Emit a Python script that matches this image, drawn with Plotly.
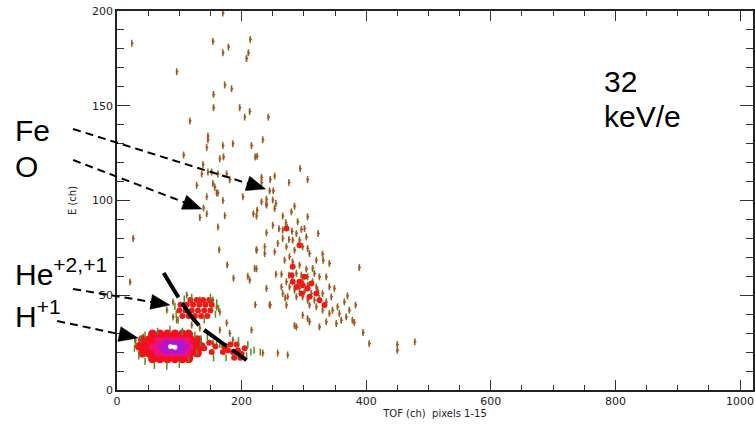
import math
import plotly.graph_objects as go

# ---------------- data (TOF channel, E channel) ----------------
# sparse events (each drawn as a small red/green tick)
sparse_x = [170,154,179,214,170,211,208,96,173,184,155,155,197,213,205,243,117,146,146,170,186,216,234,24,107,
            171,165,144,138,146,152,136,162,176,154,157,160,162,128,144,170,139,133,202,222,219,181,144,162,173,240,240,
            26,21,164,177,187,210,224,224,222,246,270,285,165,181,186,176,154,138,133,176,80,90,112,133,141,160,154,165,
            90,96,120,133,258,274,234,37,42,29,
            225,294,253,246,276,306,232,232,245,251,240,250,255,232,240,253,225,224,285,280,266,306,250,271,260,266,273,
            281,290,296,301,288,293,304,266,276,282,258,272,285,298,306,309,277,269,282,293,320,331,341,323,330,314,304,
            224,237,237,253,221,255,264,276,288,296,306,317,325,336,272,282,290,298,306,314,320,277,285,293,301,312,322,
            330,341,349,264,266,274,288,298,306,317,325,336,344,354,365,370,383,240,213,245,272,309,320,330,341,346,357,
            368,373,360,378,381,352,336,325,309,298,306,288,216,389,395,405,450,450,478]
sparse_y = [199,184,181,185,178,178,175,168,161,159,156,149,149,147,144,144,142,134,132,129,130,129,132,183,124,
            123,122,128,119,115,115,114,114,114,109,107,104,104,108,102,100,96,91,102,123,93,111,93,86,92,83,98,
            80,57,74,66,59,60,74,64,45,45,48.5,34,31.7,30,26.4,22.7,24.8,22.7,24.8,35.4,42.2,46.4,50.1,47.5,45.9,43.8,47.5,41.2,
            38.5,36.9,34.3,32.7,19.5,18.5,19.5,24.8,28,26.4,
            123.4,116.9,112.9,111.1,109.5,111.1,112.2,109.5,105.1,105.1,100.7,100.2,98.4,99.3,97.6,95.8,94.9,91.8,97,94,91.8,91.4,87,88.2,85.1,84.4,85.8,
            83.8,88.8,84.7,85.2,82.6,79.1,80.8,80,79.4,79.1,77.3,75.6,73.8,75.6,74.7,72,70.3,68.5,67.6,65.9,68.5,68.5,66.8,82.6,71.7,64.1,63.8,
            73.8,75.6,72,72.9,64.1,61.1,61.1,60.6,61.5,60.6,59.7,61.5,59.7,59.7,57.1,58,56.2,57.1,55.3,57.1,54.4,54.4,52.7,53.6,51.8,50.9,52.7,
            50.9,54.4,53.6,54.4,50.9,49.2,49.2,49.2,47.4,47.4,48.3,46.5,49.2,43.9,46.5,49.7,44.8,53.6,58,44.8,44.8,44.8,43.9,42.1,40.4,42.1,40.4,
            38.6,42.1,36.8,36.8,35.6,35.1,36,33.3,36,39.5,37.7,33.3,31.6,64.6,30.3,24.5,24,21,25.4]

# dense red event concentrations
red_x = [280,293,298,306,312,288,320,301,282,296,309,325,293,272,333,282,
         105,115,125,135,145,100,110,120,130,140,150,102,112,122,132,142,152,118,128,138,148,
         170,178,186,194,200,182,192,172,205,188,198,140,148,152,158]
red_y = [60.6,57.1,55.3,53.6,56.2,54.4,50.9,59.7,57.1,50.9,49.2,47.4,76.4,85.2,44.8,65,
         39,39,39,39,39,42,42,42,42,42,42,45,45,45,45,45,45,47.5,47.5,47.5,47.5,
         20,21,20,21,19,24,24,23,22,17,17,22,25,20,23]

# green edge events around the clusters
edge_x = [28,30,35,45,60,80,100,115,128,135,125,105,85,65,45,38,
          93,95,160,158,108,150,98,140,163,120,
          165,210,208,215,175,195,220,230,145,135,155,160]
edge_y = [22,25,18,15,13,12.5,13.5,16,20,25,29,31,32,31,29,27,
          44,40,46,40,48,49,37,37,43,49,
          24,24,18,20,17,26,21,20,28,27,17,26]

# H+1 peak, density levels (outer -> inner)
h_red_x = [36,47,58,69,80,91,102,113,124,135,
           41,52,63,74,85,96,107,118,129, 41,52,63,74,85,96,107,118,129,
           57,69,81,93,105,115, 57,69,81,93,105,115]
h_red_y = [23]*10 + [19.5]*9 + [26.5]*9 + [16.5]*6 + [29.5]*6
h_pink_x = [58,70,82,94,106,116, 66,78,90,102,112, 66,78,90,102,112]
h_pink_y = [22.7]*6 + [19.5]*5 + [26]*5
h_purple_x = [72,82,92,102,110, 80,92,102, 80,92,102]
h_purple_y = [22.7]*5 + [20.3]*3 + [25]*3
h_core_x = [86,93]
h_core_y = [23,22.5]

# hand-drawn dashed separation curve
curve_x = [75,128,160,208]
curve_y = [61.7,35.4,26.9,15.8]

# ---------------- figure ----------------
L, R, T, B = 117, 755, 11, 390
W, H = 755, 428
XMAX = (R - L) / 0.625

fig = go.Figure()

fig.add_trace(go.Scatter(x=sparse_x, y=sparse_y, mode="markers",
                         marker=dict(symbol="line-ns", size=5, line=dict(width=1.5, color="#5b8a22")),
                         hoverinfo="skip"))
fig.add_trace(go.Scatter(x=sparse_x, y=sparse_y, mode="markers",
                         marker=dict(symbol="triangle-right", size=4, color="#cf3c22", line=dict(width=0)),
                         hoverinfo="skip"))
fig.add_trace(go.Scatter(x=h_red_x, y=h_red_y, mode="markers",
                         marker=dict(symbol="circle", size=9, color="#f4101a", line=dict(width=0)), hoverinfo="skip"))
fig.add_trace(go.Scatter(x=red_x, y=red_y, mode="markers",
                         marker=dict(symbol="circle", size=6, color="#ee1a14", line=dict(width=0)), hoverinfo="skip"))
fig.add_trace(go.Scatter(x=edge_x, y=edge_y, mode="markers",
                         marker=dict(symbol="line-ns", size=5, line=dict(width=1.5, color="#5a8c1a")), hoverinfo="skip"))
fig.add_trace(go.Scatter(x=h_pink_x, y=h_pink_y, mode="markers",
                         marker=dict(symbol="circle", size=8, color="#f0107a", line=dict(width=0)), hoverinfo="skip"))
fig.add_trace(go.Scatter(x=h_purple_x, y=h_purple_y, mode="markers",
                         marker=dict(symbol="circle", size=7, color="#b414d2", line=dict(width=0)), hoverinfo="skip"))
fig.add_trace(go.Scatter(x=h_core_x, y=h_core_y, mode="markers",
                         marker=dict(symbol="circle", size=5, color="#ffffff", line=dict(width=0)), hoverinfo="skip"))
fig.add_trace(go.Scatter(x=curve_x, y=curve_y, mode="lines",
                         line=dict(color="black", width=4, dash="28px,7px", shape="spline"), hoverinfo="skip"))

def fx(px):
    return (px - L) / (R - L)

def fy(py):
    return (B - py) / (B - T)

shapes = []
arrows = [((73, 129), (266, 189)), ((73, 160), (202, 209)),
          ((73, 289), (170, 305)), ((57, 321), (138, 338))]
for (sx, sy), (tx, ty) in arrows:
    dx, dy = tx - sx, ty - sy
    n = math.hypot(dx, dy)
    ux, uy = dx / n, dy / n
    hl, hw = 19, 7.5
    bx, by = tx - hl * ux, ty - hl * uy
    shapes.append(dict(type="line", xref="paper", yref="paper",
                       x0=fx(sx), y0=fy(sy), x1=fx(bx + 3 * ux), y1=fy(by + 3 * uy),
                       line=dict(color="black", width=2, dash="8px,5px")))
    p1 = (bx - hw * uy, by + hw * ux)
    p2 = (bx + hw * uy, by - hw * ux)
    path = "M {:.5f},{:.5f} L {:.5f},{:.5f} L {:.5f},{:.5f} Z".format(
        fx(tx), fy(ty), fx(p1[0]), fy(p1[1]), fx(p2[0]), fy(p2[1]))
    shapes.append(dict(type="path", xref="paper", yref="paper", path=path,
                       fillcolor="black", line=dict(color="black", width=0.5)))

big = dict(family="Liberation Sans, Arial, sans-serif", size=30, color="black")
labels = [("Fe", 13, 130), ("O", 13, 166), ("He<sup>+2,+1</sup>", 13, 272),
          ("H<sup>+1</sup>", 13, 314), ("32", 604, 82), ("keV/e", 604, 116)]
annotations = [dict(text=t, x=fx(x), y=fy(y), xref="paper", yref="paper",
                    xanchor="left", yanchor="middle", showarrow=False, font=big)
               for t, x, y in labels]

tickfont = dict(family="DejaVu Sans, sans-serif", size=11, color="#222")
fig.update_layout(
    width=W, height=H, margin=dict(l=L, r=W - R, t=T, b=H - B),
    paper_bgcolor="white", plot_bgcolor="white", showlegend=False,
    shapes=shapes, annotations=annotations,
    xaxis=dict(range=[0, XMAX], tickvals=[0, 200, 400, 600, 800, 1000],
               ticks="inside", ticklen=10, tickwidth=1, tickcolor="#333",
               minor=dict(dtick=50, ticks="inside", ticklen=5, tickcolor="#333"),
               showline=True, linecolor="#222", linewidth=1.5, mirror="allticks",
               showgrid=False, zeroline=False, tickfont=tickfont,
               title=dict(text="TOF (ch)  pixels 1-15", font=dict(family="DejaVu Sans, sans-serif", size=10, color="#222"),
                          standoff=2)),
    yaxis=dict(range=[0, 200], tickvals=[0, 50, 100, 150, 200],
               ticks="inside", ticklen=13, tickwidth=1, tickcolor="#333",
               minor=dict(dtick=10, ticks="inside", ticklen=7, tickcolor="#333"),
               showline=True, linecolor="#222", linewidth=1.5, mirror="allticks",
               showgrid=False, zeroline=False, tickfont=tickfont,
               title=dict(text="E (ch)", font=dict(family="DejaVu Sans, sans-serif", size=10, color="#222"),
                          standoff=14)),
)

fig.write_html("out.html")
